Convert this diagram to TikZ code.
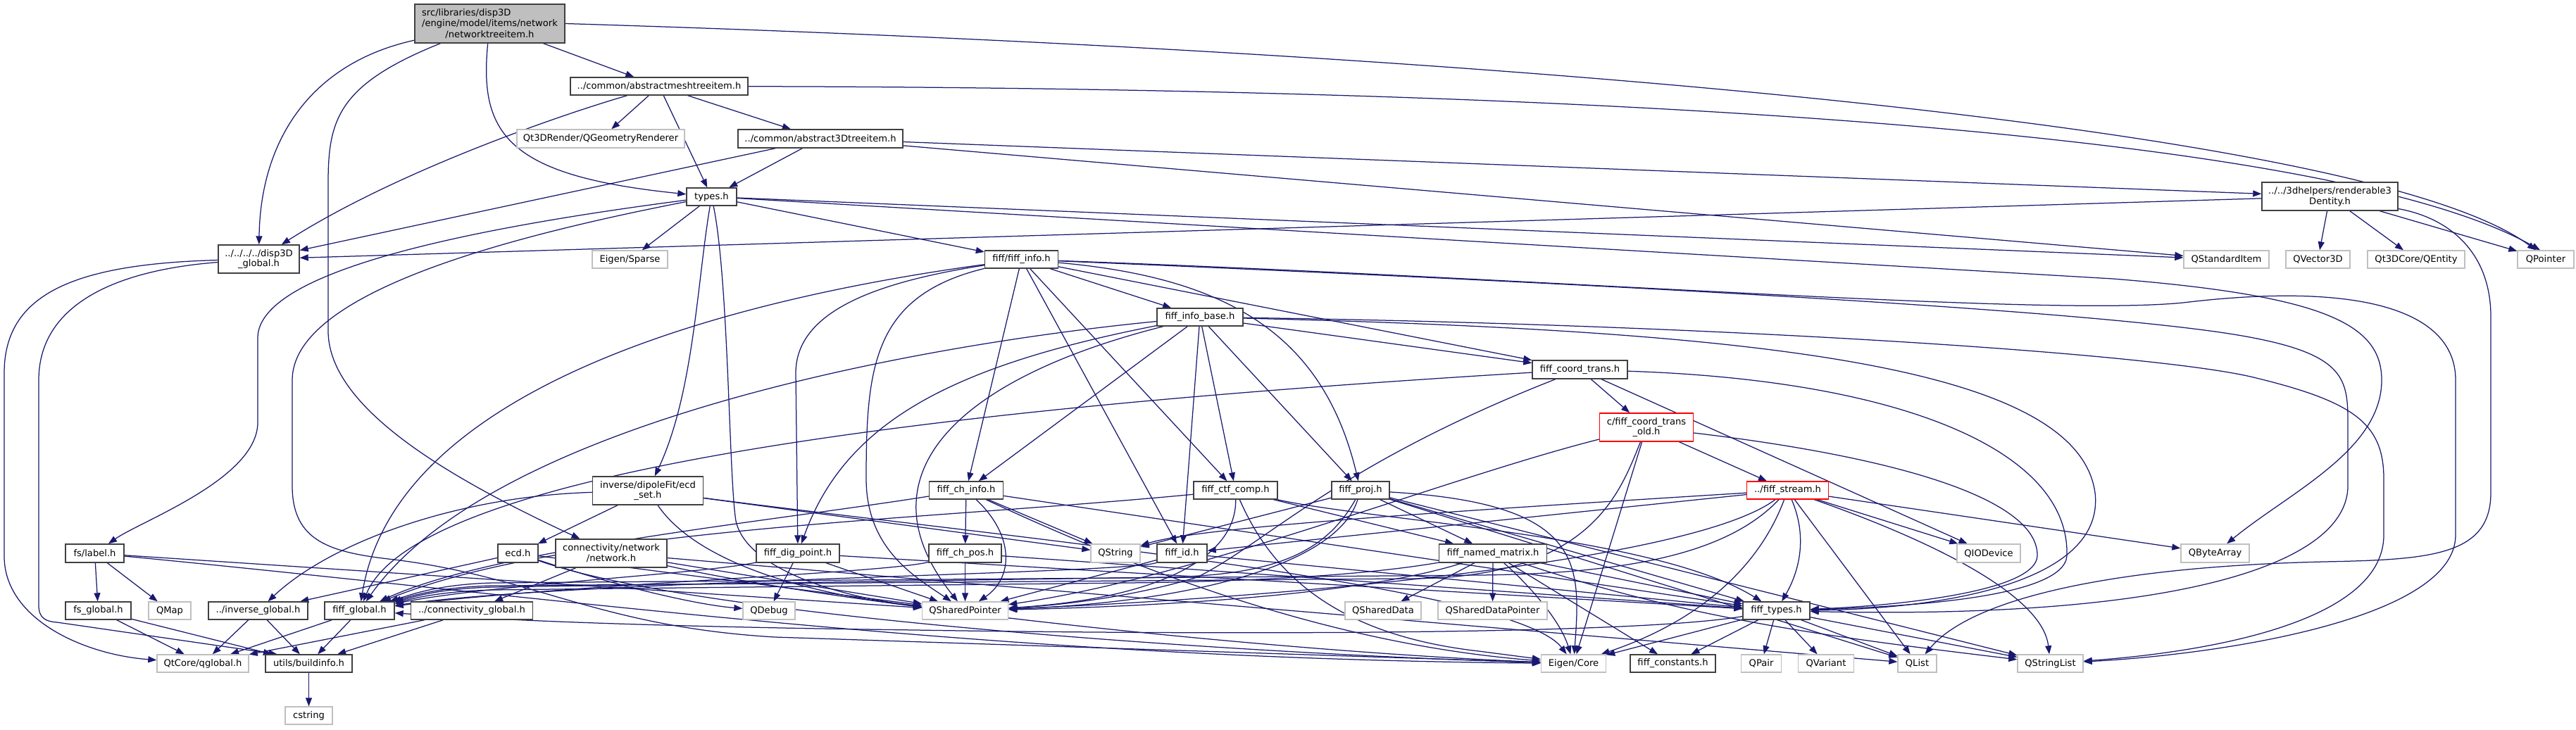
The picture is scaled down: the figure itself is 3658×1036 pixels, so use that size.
\documentclass[tikz,border=0pt]{standalone}
\usepackage{fontspec}
\setmainfont{DejaVu Sans}
\usetikzlibrary{arrows.meta}
\pgfdeclarelayer{edgelayer}
\pgfdeclarelayer{bglayer}
\pgfsetlayers{bglayer,edgelayer,main}
\definecolor{edgec}{HTML}{191970}
\definecolor{extc}{HTML}{BFBFBF}
\definecolor{blkc}{HTML}{404040}
\newcommand\nodefont{\fontsize{13.1pt}{14.8pt}\selectfont}
\tikzset{
  nb/.style={draw=blkc, line width=1.4pt, fill=white, inner sep=0pt, align=center, font=\nodefont},
  blk/.style={nb},
  ext/.style={nb, draw=extc},
  redbox/.style={nb, draw=red},
  mainst/.style={nb, fill=extc},
  edg/.style={draw=edgec, line width=1.25pt, -{Triangle[length=12pt,width=9pt]}}
}
\begin{document}
\begin{tikzpicture}[x=1pt,y=-1pt]
\begin{pgfonlayer}{bglayer}
\fill[white] (0,0) rectangle (3658,1036);
\end{pgfonlayer}
\useasboundingbox (0,0) rectangle (3658,1036);
% ---------------- nodes
\node[mainst, minimum width=213pt, minimum height=55pt] (main) at (695.5,33.5) {\begin{tabular}{@{}l@{}}src/libraries/disp3D\\/engine/model/items/network\end{tabular}\\/networktreeitem.h};
\node[blk, minimum width=115pt, minimum height=40pt] (disp) at (367.5,368) {../../../../disp3D\\\_global.h};
\node[blk, minimum width=252pt, minimum height=25pt] (absmesh) at (936,122.5) {../common/abstractmeshtreeitem.h};
\node[ext, minimum width=238pt, minimum height=26pt] (qgeom) at (853,197) {Qt3DRender/QGeometryRenderer};
\node[blk, minimum width=234pt, minimum height=26pt] (abs3d) at (1165,197) {../common/abstract3Dtreeitem.h};
\node[blk, minimum width=71pt, minimum height=25pt] (types) at (1010.5,279.5) {types.h};
\node[ext, minimum width=107pt, minimum height=25pt] (eigsparse) at (894.5,368.5) {Eigen/Sparse};
\node[blk, minimum width=104pt, minimum height=25pt] (fiffinfo) at (1450.5,368.5) {fiff/fiff\_info.h};
\node[blk, minimum width=122pt, minimum height=25pt] (fiffinfobase) at (1704,450.5) {fiff\_info\_base.h};
\node[blk, minimum width=135pt, minimum height=26pt] (coordtrans) at (2243.5,525) {fiff\_coord\_trans.h};
\node[blk, minimum width=193pt, minimum height=40pt] (renderable) at (3308.5,279) {../../3dhelpers/renderable3\\Dentity.h};
\node[ext, minimum width=121pt, minimum height=25pt] (qstditem) at (3161.5,368.5) {QStandardItem};
\node[ext, minimum width=91pt, minimum height=25pt] (qvec) at (3291.5,368.5) {QVector3D};
\node[ext, minimum width=138pt, minimum height=25pt] (qentity) at (3431,368.5) {Qt3DCore/QEntity};
\node[ext, minimum width=80pt, minimum height=25pt] (qpointer) at (3615,368.5) {QPointer};
\node[blk, minimum width=83pt, minimum height=26pt] (fslabel) at (134.5,786) {fs/label.h};
\node[blk, minimum width=93pt, minimum height=25pt] (fsglobal) at (139.5,867.5) {fs\_global.h};
\node[ext, minimum width=60pt, minimum height=25pt] (qmap) at (241,867.5) {QMap};
\node[blk, minimum width=141pt, minimum height=25pt] (invglobal) at (366.5,867.5) {../inverse\_global.h};
\node[blk, minimum width=99pt, minimum height=25pt] (fiffglobal) at (510.5,867.5) {fiff\_global.h};
\node[blk, minimum width=173pt, minimum height=25pt] (connglobal) at (670,867.5) {../connectivity\_global.h};
\node[ext, minimum width=130pt, minimum height=25pt] (qglobal) at (288,942.5) {QtCore/qglobal.h};
\node[blk, minimum width=123pt, minimum height=25pt] (buildinfo) at (438.5,942.5) {utils/buildinfo.h};
\node[ext, minimum width=67pt, minimum height=25pt] (cstring) at (438.5,1016.5) {cstring};
\node[blk, minimum width=157pt, minimum height=40pt] (ecdset) at (920,697) {inverse/dipoleFit/ecd\\\_set.h};
\node[blk, minimum width=57pt, minimum height=26pt] (ecd) at (735.5,786) {ecd.h};
\node[blk, minimum width=158pt, minimum height=40pt] (network) at (868,786) {connectivity/network\\/network.h};
\node[blk, minimum width=118pt, minimum height=26pt] (digpoint) at (1133,786) {fiff\_dig\_point.h};
\node[ext, minimum width=74pt, minimum height=25pt] (qdebug) at (1092,867.5) {QDebug};
\node[blk, minimum width=105pt, minimum height=25pt] (chinfo) at (1372,696.5) {fiff\_ch\_info.h};
\node[blk, minimum width=119pt, minimum height=25pt] (ctfcomp) at (1754.5,696.5) {fiff\_ctf\_comp.h};
\node[blk, minimum width=103pt, minimum height=26pt] (chpos) at (1370.5,786) {fiff\_ch\_pos.h};
\node[ext, minimum width=70pt, minimum height=26pt] (qstring) at (1584,786) {QString};
\node[blk, minimum width=71pt, minimum height=26pt] (fiffid) at (1678.5,786) {fiff\_id.h};
\node[ext, minimum width=122pt, minimum height=25pt] (qsptr) at (1370.5,867.5) {QSharedPointer};
\node[redbox, minimum width=133pt, minimum height=40pt] (ctold) at (2338,607) {c/fiff\_coord\_trans\\\_old.h};
\node[blk, minimum width=82pt, minimum height=25pt] (proj) at (1932,696.5) {fiff\_proj.h};
\node[blk, minimum width=153pt, minimum height=26pt] (namedmat) at (2120,786) {fiff\_named\_matrix.h};
\node[ext, minimum width=108pt, minimum height=25pt] (qsdata) at (1964,867.5) {QSharedData};
\node[ext, minimum width=155pt, minimum height=25pt] (qsdptr) at (2119.5,867.5) {QSharedDataPointer};
\node[ext, minimum width=92pt, minimum height=25pt] (eigcore) at (2234.5,942.5) {Eigen/Core};
\node[blk, minimum width=121pt, minimum height=25pt] (constants) at (2375.5,942.5) {fiff\_constants.h};
\node[redbox, minimum width=116pt, minimum height=25pt] (stream) at (2538.5,696.5) {../fiff\_stream.h};
\node[ext, minimum width=90pt, minimum height=26pt] (qiodev) at (2824,786) {QIODevice};
\node[blk, minimum width=95pt, minimum height=25pt] (fifftypes) at (2522.5,867.5) {fiff\_types.h};
\node[ext, minimum width=57pt, minimum height=25pt] (qpair) at (2501,942.5) {QPair};
\node[ext, minimum width=79pt, minimum height=25pt] (qvariant) at (2593,942.5) {QVariant};
\node[ext, minimum width=55pt, minimum height=25pt] (qlist) at (2722.5,942.5) {QList};
\node[ext, minimum width=93pt, minimum height=25pt] (qstrlist) at (2911.5,942.5) {QStringList};
\node[ext, minimum width=97pt, minimum height=26pt] (qbytearr) at (3145.5,786) {QByteArray};
% ---------------- edges
\begin{pgfonlayer}{edgelayer}
% main
\draw[edg] (main) -- (absmesh);
\draw[edg] (main) .. controls (680,190) and (720,250) .. (types);
\draw[edg] (main) .. controls (440,90) and (370,200) .. (disp);
\draw[edg] (main) .. controls (480,120) and (466,170) .. (466,260) -- (466,470) .. controls (466,580) and (640,680) .. (network);
\draw[edg] (main.east) .. controls (2000,70) and (3350,170) .. ([xshift=-14pt]qpointer.north);
% abstractmesh
\draw[edg] (absmesh) .. controls (2200,125) and (3300,180) .. ([xshift=-8pt]qpointer.north);
\draw[edg] (absmesh) .. controls (790,165) and (560,245) .. (disp);
\draw[edg] (absmesh) -- (qgeom);
\draw[edg] (absmesh) -- (types);
\draw[edg] (absmesh) -- (abs3d);
% abstract3D
\draw[edg] (abs3d) -- (types);
\draw[edg] (abs3d) -- (disp);
\draw[edg] (abs3d) -- (renderable);
\draw[edg] (abs3d) -- (qstditem);
% renderable
\draw[edg] (renderable) -- (disp);
\draw[edg] (renderable) -- (qvec);
\draw[edg] (renderable) -- (qentity);
\draw[edg] (renderable) -- (qpointer);
\draw[edg] (renderable) .. controls (3480,310) and (3537,360) .. (3537,450) -- (3537,700) .. controls (3537,790) and (3450,795) .. (3300,798) .. controls (3000,805) and (2800,850) .. (qlist);
% types
\draw[edg] (types) -- (eigsparse);
\draw[edg] (types) -- (fiffinfo);
\draw[edg] (types) -- (qstditem);
\draw[edg] (types) -- (3000,396) .. controls (3300,420) and (3382,460) .. (3382,540) .. controls (3382,640) and (3250,700) .. (qbytearr);
\draw[edg] (types) .. controls (700,320) and (366,380) .. (366,480) -- (366,600) .. controls (366,680) and (200,740) .. (fslabel);
\draw[edg] (types) .. controls (700,340) and (415,420) .. (415,540) -- (415,690) .. controls (415,770) and (470,785) .. (560,795) .. controls (760,820) and (850,890) .. (1100,905) -- (eigcore);
\draw[edg] (types) .. controls (990,400) and (985,560) .. (ecdset);
\draw[edg] (types) .. controls (1035,400) and (1035,680) .. (1045,740) .. controls (1060,810) and (1200,850) .. (qsptr);
% disp3D_global
\draw[edg] (disp) .. controls (100,375) and (6,420) .. (6,530) -- (6,790) .. controls (6,880) and (120,930) .. (qglobal);
\draw[edg] (disp) .. controls (150,385) and (55,440) .. (55,540) -- (55,860) .. controls (55,878) and (65,883) .. (81,884) -- ([xshift=-45pt]buildinfo.north);
% fs
\draw[edg] (fslabel) -- (fsglobal);
\draw[edg] (fslabel) -- (qmap);
\draw[edg] (fslabel) -- (qsptr);
\draw[edg] (fslabel) .. controls (800,850) and (1400,935) .. (eigcore);
\draw[edg] (fsglobal) -- (qglobal);
\draw[edg] (fsglobal) -- (buildinfo);
\draw[edg] (invglobal) -- (qglobal);
\draw[edg] (invglobal) -- (buildinfo);
\draw[edg] (fiffglobal) -- (qglobal);
\draw[edg] (fiffglobal) -- (buildinfo);
\draw[edg] (connglobal) -- (qglobal);
\draw[edg] (connglobal) -- (buildinfo);
\draw[edg] (buildinfo) -- (cstring);
% ecd
\draw[edg] (ecdset) .. controls (650,705) and (470,770) .. (invglobal);
\draw[edg] (ecdset) -- (ecd);
\draw[edg] (ecdset) .. controls (990,800) and (1150,845) .. (qsptr);
\draw[edg] (ecdset) -- (qstring);
\draw[edg] (ecdset) .. controls (1400,760) and (2150,830) .. (eigcore);
\draw[edg] (ecd) -- (invglobal);
\draw[edg] (ecd) .. controls (900,840) and (1000,860) .. (qdebug);
\draw[edg] (ecd) -- (qsptr);
\draw[edg] (ecd) .. controls (1000,880) and (1800,930) .. (eigcore);
% network
\draw[edg] (network) -- (connglobal);
\draw[edg] (network) -- (qsptr);
\draw[edg] (network) .. controls (1200,860) and (1800,925) .. (eigcore);
\draw[edg] (network) -- (qlist);
% fiff_info
\draw[edg] (fiffinfo) -- (fiffinfobase);
\draw[edg] (fiffinfo) -- (coordtrans);
\draw[edg] (fiffinfo) -- (chinfo);
\draw[edg] (fiffinfo) -- (ctfcomp);
\draw[edg] (fiffinfo) -- (fiffid);
\draw[edg] (fiffinfo) .. controls (1750,395) and (1880,480) .. (proj);
\draw[edg] (fiffinfo) .. controls (1250,400) and (1130,440) .. (1130,530) -- (digpoint);
\draw[edg] (fiffinfo) .. controls (1000,430) and (560,560) .. (fiffglobal);
\draw[edg] (fiffinfo) .. controls (1240,420) and (1230,520) .. (1230,680) .. controls (1230,780) and (1300,820) .. (qsptr);
\draw[edg] (fiffinfo) .. controls (2200,400) and (3000,440) .. (3200,480) .. controls (3330,505) and (3334,540) .. (3334,600) -- (3334,690) .. controls (3334,800) and (3100,880) .. (fifftypes);
\draw[edg] (fiffinfo) .. controls (2200,395) and (2900,450) .. (3100,430) .. controls (3350,400) and (3487,440) .. (3487,540) -- (3487,760) .. controls (3487,880) and (3150,930) .. (qstrlist);
% fiff_info_base
\draw[edg] (fiffinfobase) -- (coordtrans);
\draw[edg] (fiffinfobase) -- (chinfo);
\draw[edg] (fiffinfobase) -- (ctfcomp);
\draw[edg] (fiffinfobase) -- (fiffid);
\draw[edg] (fiffinfobase) -- (proj);
\draw[edg] (fiffinfobase) .. controls (1350,520) and (1200,600) .. (digpoint);
\draw[edg] (fiffinfobase) .. controls (1300,490) and (700,600) .. (fiffglobal);
\draw[edg] (fiffinfobase) .. controls (1350,540) and (1220,680) .. (qsptr);
\draw[edg] (fiffinfobase) .. controls (2400,460) and (3050,500) .. (3200,536) .. controls (3340,570) and (3385,600) .. (3385,680) -- (3385,760) .. controls (3385,880) and (3150,925) .. (qstrlist);
\draw[edg] (fiffinfobase) .. controls (2500,470) and (2950,520) .. (2975,700) .. controls (2990,830) and (2750,865) .. (fifftypes);
% coord trans
\draw[edg] (coordtrans) -- (ctold);
\draw[edg] (coordtrans) -- (qiodev);
\draw[edg] (coordtrans) .. controls (1500,570) and (600,650) .. (fiffglobal);
\draw[edg] (coordtrans) .. controls (1900,660) and (1800,770) .. (1700,820) .. controls (1600,850) and (1500,860) .. (qsptr);
\draw[edg] (coordtrans) .. controls (2700,540) and (2940,640) .. (2935,790) .. controls (2930,850) and (2700,862) .. (fifftypes);
% coord trans old
\draw[edg] (ctold) -- (stream);
\draw[edg] (ctold) -- (eigcore);
\draw[edg] (ctold) .. controls (2300,700) and (2260,822) .. (2000,822) -- (700,832) .. controls (620,834) and (580,848) .. (fiffglobal);
\draw[edg] (ctold) .. controls (2050,680) and (1700,820) .. (qsptr);
\draw[edg] (ctold) .. controls (2700,650) and (2895,710) .. (2893,790) .. controls (2890,840) and (2700,860) .. (fifftypes);
% stream
\draw[edg] (stream) .. controls (2570,770) and (2550,820) .. (fifftypes);
\draw[edg] (stream) -- (qlist);
\draw[edg] (stream) .. controls (2720,760) and (2900,840) .. (qstrlist);
\draw[edg] (stream) -- (qiodev);
\draw[edg] (stream) -- (qbytearr);
\draw[edg] (stream) .. controls (2500,800) and (2420,880) .. (eigcore);
\draw[edg] (stream) -- (fiffid);
\draw[edg] (stream) .. controls (2000,730) and (1700,750) .. (qstring);
\draw[edg] (stream) .. controls (2450,790) and (2300,815) .. (2100,817) -- (700,828) .. controls (620,830) and (580,846) .. (fiffglobal);
\draw[edg] (stream) .. controls (2400,800) and (1800,850) .. (qsptr);
% ch info / ch pos
\draw[edg] (chinfo) -- (chpos);
\draw[edg] (chinfo) -- (qstring);
\draw[edg] (chinfo) .. controls (1440,760) and (1440,820) .. (qsptr);
\draw[edg] (chinfo) -- (fifftypes);
\draw[edg] (chinfo) .. controls (1700,850) and (1950,920) .. (eigcore);
\draw[edg] (chinfo) .. controls (1100,740) and (700,780) .. (fiffglobal);
\draw[edg] (chpos) -- (qsptr);
\draw[edg] (chpos) -- (fifftypes);
\draw[edg] (chpos) .. controls (1250,815) and (800,830) .. (fiffglobal);
% ctf comp
\draw[edg] (ctfcomp) .. controls (1300,740) and (800,750) .. (fiffglobal);
\draw[edg] (ctfcomp) .. controls (1950,740) and (2350,760) .. (fifftypes);
\draw[edg] (ctfcomp) -- (namedmat);
\draw[edg] (ctfcomp) .. controls (1756,790) and (1650,850) .. (qsptr);
\draw[edg] (ctfcomp) .. controls (1800,800) and (1880,900) .. (2100,925) -- (eigcore);
% fiff id / dig point
\draw[edg] (fiffid) .. controls (1600,815) and (800,825) .. (fiffglobal);
\draw[edg] (fiffid) -- (qsptr);
\draw[edg] (fiffid) -- (fifftypes);
\draw[edg] (digpoint) .. controls (1000,815) and (700,830) .. (fiffglobal);
\draw[edg] (digpoint) -- (fifftypes);
\draw[edg] (digpoint) -- (qdebug);
\draw[edg] (digpoint) -- (qsptr);
% proj
\draw[edg] (proj) .. controls (1880,790) and (1800,818) .. (1650,820) -- (700,834) .. controls (620,836) and (580,850) .. (fiffglobal);
\draw[edg] (proj) -- (namedmat);
\draw[edg] (proj) -- (fifftypes);
\draw[edg] (proj) .. controls (1900,800) and (1700,855) .. (qsptr);
\draw[edg] (proj) -- (qstring);
\draw[edg] (proj) .. controls (2250,715) and (2245,800) .. (eigcore);
\draw[edg] (proj) -- (qlist);
\draw[edg] (proj) -- (qstrlist);
% named matrix
\draw[edg] (namedmat) .. controls (1950,815) and (1800,826) .. (1600,828) -- (700,838) .. controls (620,840) and (580,852) .. (fiffglobal);
\draw[edg] (namedmat) -- (fifftypes);
\draw[edg] (namedmat) -- (qsdata);
\draw[edg] (namedmat) -- (qsdptr);
\draw[edg] (namedmat) .. controls (2170,830) and (2215,880) .. (eigcore);
\draw[edg] (namedmat) -- (constants);
\draw[edg] (namedmat) .. controls (1950,840) and (1700,860) .. (qsptr);
\draw[edg] (namedmat) .. controls (2400,880) and (2600,905) .. (qstrlist);
% fiff types
\draw[edg] (fifftypes) -- (constants);
\draw[edg] (fifftypes) -- (qpair);
\draw[edg] (fifftypes) -- (qvariant);
\draw[edg] (fifftypes) -- (qlist);
\draw[edg] (fifftypes) -- (qstrlist);
\draw[edg] (fifftypes) -- (eigcore);
\draw[edg] (fifftypes) .. controls (2300,905) and (1600,900) .. (1300,895) .. controls (900,890) and (700,880) .. (fiffglobal);
\end{pgfonlayer}
\end{tikzpicture}
\end{document}
